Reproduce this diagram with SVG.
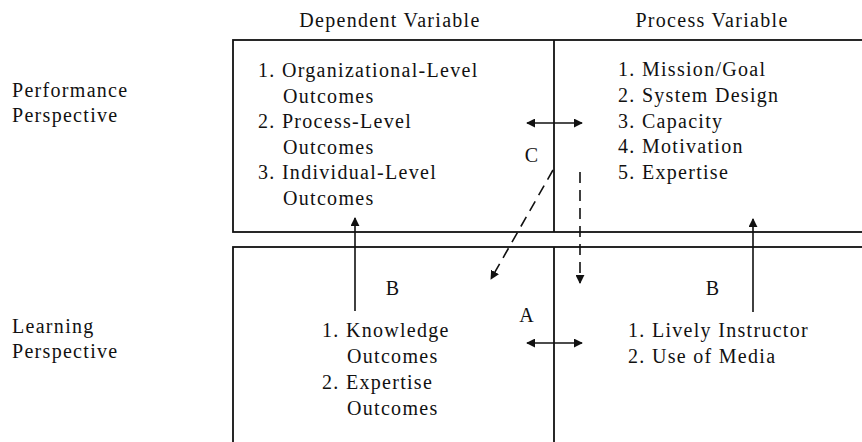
<svg xmlns="http://www.w3.org/2000/svg" width="862" height="442" viewBox="0 0 862 442">
<style>
text{font-family:"Liberation Serif","Times New Roman",serif;font-size:20px;letter-spacing:1.3px;fill:#111}
.box{fill:none;stroke:#111;stroke-width:1.8}
.div{stroke:#111;stroke-width:1.8}
.arr{stroke:#111;stroke-width:1.6;fill:none}
.dash{stroke:#111;stroke-width:1.6;fill:none;stroke-dasharray:11 7}
.mid{text-anchor:middle}
</style>
<defs>
<marker id="ah" viewBox="0 0 10 10" refX="9" refY="5" markerWidth="9" markerHeight="9" markerUnits="userSpaceOnUse" orient="auto-start-reverse">
<path d="M0,0 L10,5 L0,10 Z" fill="#111"/>
</marker>
</defs>
<rect width="862" height="442" fill="#fff"/>
<g id="header-dependent"><text class="mid" x="390" y="27">Dependent Variable</text></g>
<g id="header-process"><text class="mid" x="712" y="27">Process Variable</text></g>
<g id="row-performance"><text x="12" y="97">Performance</text><text x="12" y="122">Perspective</text></g>
<g id="row-learning"><text x="12" y="333">Learning</text><text x="12" y="358">Perspective</text></g>
<g id="frame-performance">
<rect class="box" x="233" y="40" width="640" height="192"/>
<line class="div" x1="554" y1="40" x2="554" y2="232"/>
</g>
<g id="frame-learning">
<rect class="box" x="233" y="247" width="640" height="210"/>
<line class="div" x1="554" y1="247" x2="554" y2="450"/>
</g>
<g id="cell-perf-dependent">
<text x="258" y="77">1. Organizational-Level</text>
<text x="283" y="102.6">Outcomes</text>
<text x="258" y="128.2">2. Process-Level</text>
<text x="283" y="153.8">Outcomes</text>
<text x="258" y="179.4">3. Individual-Level</text>
<text x="283" y="205">Outcomes</text>
</g>
<g id="cell-perf-process">
<text x="618" y="76">1. Mission/Goal</text>
<text x="618" y="101.8">2. System Design</text>
<text x="618" y="127.6">3. Capacity</text>
<text x="618" y="153.4">4. Motivation</text>
<text x="618" y="179.2">5. Expertise</text>
</g>
<g id="cell-learn-dependent">
<text x="322" y="337">1. Knowledge</text>
<text x="347" y="363">Outcomes</text>
<text x="322" y="389">2. Expertise</text>
<text x="347" y="415">Outcomes</text>
</g>
<g id="cell-learn-process">
<text x="628" y="337">1. Lively Instructor</text>
<text x="628" y="363">2. Use of Media</text>
</g>
<g id="connectors">
<line class="arr" x1="527" y1="123" x2="582" y2="123" marker-start="url(#ah)" marker-end="url(#ah)"/>
<line class="arr" x1="527" y1="343" x2="582" y2="343" marker-start="url(#ah)" marker-end="url(#ah)"/>
<line class="arr" x1="355" y1="311" x2="355" y2="218" marker-end="url(#ah)"/>
<line class="arr" x1="753" y1="312" x2="753" y2="219" marker-end="url(#ah)"/>
<line class="dash" x1="553" y1="170" x2="491" y2="279" marker-end="url(#ah)"/>
<line class="dash" x1="580" y1="172" x2="580" y2="283" marker-end="url(#ah)"/>
</g>
<g id="connector-labels">
<text class="mid" x="532" y="162">C</text>
<text class="mid" x="527" y="322">A</text>
<text class="mid" x="393" y="295">B</text>
<text class="mid" x="713" y="295">B</text>
</g>
</svg>
